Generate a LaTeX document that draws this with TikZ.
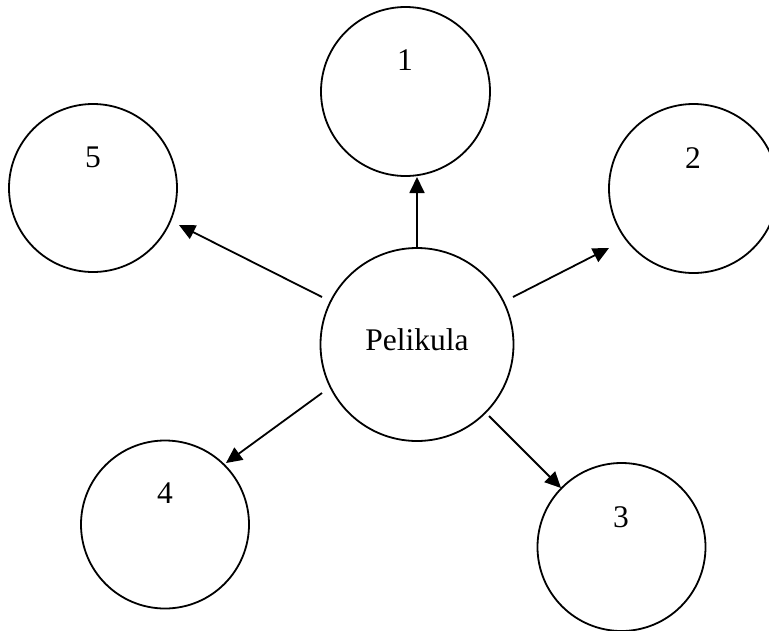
\documentclass[tikz,border=0pt]{standalone}
\usepackage{fontspec}
\setmainfont{Liberation Serif}
\usetikzlibrary{arrows.meta}
\begin{document}
\begin{tikzpicture}[x=1pt,y=-1pt,
  bub/.style={circle,draw=black,line width=1.8pt,inner sep=0pt},
  txt/.style={inner sep=0pt,font=\fontsize{31.5}{36}\selectfont},
  arr/.style={line width=1.8pt,-{Triangle[length=16pt,width=15pt]}}]
\useasboundingbox (0,0) rectangle (769,630);
\clip (0,0) rectangle (769,630);
% circles
\node[bub,minimum size=193pt] (c) at (417,344.5) {};
\node[bub,minimum size=169pt] (c1) at (405.5,91.5) {};
\node[bub,minimum size=169pt] (c2) at (693.5,188.5) {};
\node[bub,minimum size=168pt] (c3) at (621.5,547) {};
\node[bub,minimum size=168pt] (c4) at (165,524.5) {};
\node[bub,minimum size=168pt] (c5) at (93,188) {};
% texts
\node[txt] (tc) at (417,340) {Pelikula};
\node[txt] (t1) at (405,60) {1};
\node[txt] (t2) at (693,158) {2};
\node[txt] (t3) at (621,517) {3};
\node[txt] (t4) at (165,493) {4};
\node[txt] (t5) at (93,157) {5};
% arrow end points
\coordinate (s1) at (417,248);
\coordinate (e1) at (417,177);
\coordinate (s2) at (513,297);
\coordinate (e2) at (609,248);
\coordinate (s3) at (489,416);
\coordinate (e3) at (561,488);
\coordinate (s4) at (322,393);
\coordinate (e4) at (226,463);
\coordinate (s5) at (322,297);
\coordinate (e5) at (179,225);
\draw[arr] (s1) -- (e1);
\draw[arr] (s2) -- (e2);
\draw[arr] (s3) -- (e3);
\draw[arr] (s4) -- (e4);
\draw[arr] (s5) -- (e5);
\end{tikzpicture}
\end{document}
